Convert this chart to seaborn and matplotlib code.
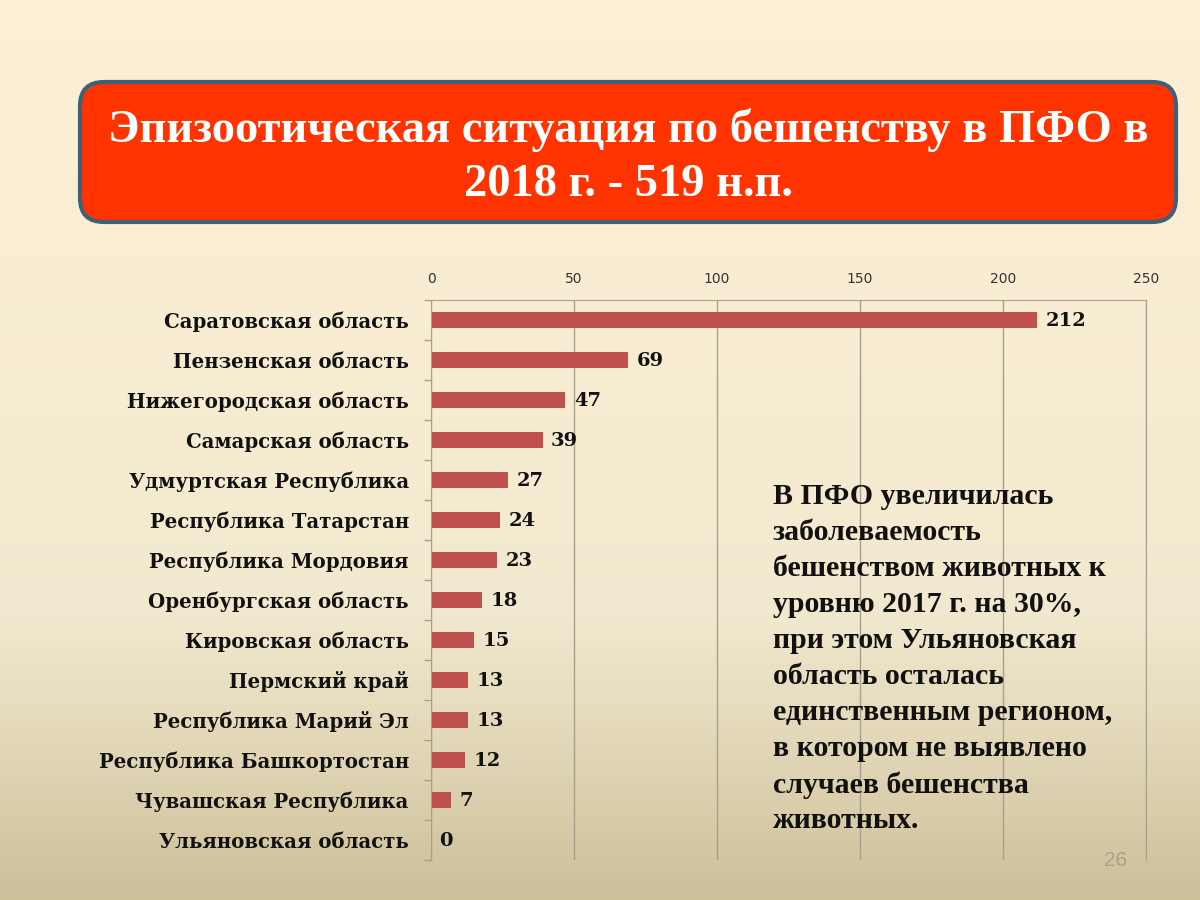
import numpy as np
import pandas as pd
import seaborn as sns
import matplotlib.pyplot as plt
from matplotlib.colors import LinearSegmentedColormap
from matplotlib.patches import FancyBboxPatch

regions = ['Саратовская область', 'Пензенская область', 'Нижегородская область',
           'Самарская область', 'Удмуртская Республика', 'Республика Татарстан',
           'Республика Мордовия', 'Оренбургская область', 'Кировская область',
           'Пермский край', 'Республика Марий Эл', 'Республика Башкортостан',
           'Чувашская Республика', 'Ульяновская область']
cases = [212, 69, 47, 39, 27, 24, 23, 18, 15, 13, 13, 12, 7, 0]
x_ticks = [0, 50, 100, 150, 200, 250]

title_text = 'Эпизоотическая ситуация по бешенству в ПФО в\n2018 г. - 519 н.п.'
note_lines = ['В ПФО увеличилась', 'заболеваемость', 'бешенством животных к',
              'уровню 2017 г. на 30%,', 'при этом Ульяновская', 'область осталась',
              'единственным регионом,', 'в котором не выявлено', 'случаев бешенства',
              'животных.']

sns.set_style('white')
plt.rcParams['font.family'] = ['Liberation Serif', 'DejaVu Serif']
line_col = '#A89F8C'

fig = plt.figure(figsize=(12, 9), dpi=100)

# slide background, cream at the top and tan at the bottom
bg = fig.add_axes([0, 0, 1, 1], zorder=0)
cmap = LinearSegmentedColormap.from_list('slide', ['#FBEFD5', '#F1E9CF', '#CDBF98'])
bg.imshow(np.linspace(0, 1, 256).reshape(-1, 1) ** 1.8, aspect='auto', cmap=cmap,
          extent=[0, 1200, 900, 0])
bg.set_xlim(0, 1200)
bg.set_ylim(900, 0)
bg.axis('off')

# red title box
box = FancyBboxPatch((80, 82), 1096, 140, boxstyle='round,pad=0,rounding_size=24',
                     mutation_scale=1, fc='#FF3300', ec='#3F6079', lw=3)
bg.add_patch(box)
bg.text(628, 157, title_text, color='white', fontsize=33.5, fontweight='bold',
        ha='center', va='center', linespacing=1.4)

# bars
ax = fig.add_axes([431 / 1200, 1 - 860 / 900, (1146 - 431) / 1200, (860 - 300) / 900], zorder=2)
ax.patch.set_alpha(0)
df = pd.DataFrame({'region': regions, 'cases': cases})
sns.barplot(data=df, x='cases', y='region', color='#C0504D', saturation=1, width=0.42,
            edgecolor='none', linewidth=0, ax=ax)
ax.set_xlim(0, 250)
ax.set_ylim(13.5, -0.5)
ax.set_xlabel('')
ax.set_ylabel('')
ax.xaxis.tick_top()
ax.set_xticks(x_ticks)
ax.set_yticks(np.arange(-0.5, 14), minor=True)
ax.tick_params(axis='x', labelsize=10, labelcolor='#333333', color=line_col, length=4, pad=6)
ax.tick_params(axis='y', which='major', labelsize=14.2, length=0, pad=16)
ax.tick_params(axis='y', which='minor', color=line_col, length=5, width=1, left=True)
for t in ax.get_xticklabels():
    t.set_family('DejaVu Sans')
for t in ax.get_yticklabels():
    t.set_family('DejaVu Serif')
    t.set_fontweight('bold')
    t.set_color('#111111')
ax.grid(axis='x', color=line_col, lw=1)
ax.set_axisbelow(True)
sns.despine(ax=ax, top=False, right=False, bottom=True)
for side in ['top', 'left', 'right']:
    ax.spines[side].set_color(line_col)
for i, v in enumerate(cases):
    ax.text(v + 3, i + 0.03, str(v), fontsize=14, fontweight='bold', color='#111111',
            family='DejaVu Serif', va='center', ha='left')

# note on the right, above the grid lines
top = fig.add_axes([0, 0, 1, 1], zorder=3)
top.set_xlim(0, 1200)
top.set_ylim(900, 0)
top.axis('off')
for i, line in enumerate(note_lines):
    top.text(773, 497 + i * 36, line, fontsize=21.5, fontweight='bold', color='#111111',
             va='center', ha='left')

top.text(1116, 860, '26', fontsize=15, color='#A9A28C', family='Liberation Sans',
         ha='center', va='center')

fig.savefig('out.png', dpi=100)
